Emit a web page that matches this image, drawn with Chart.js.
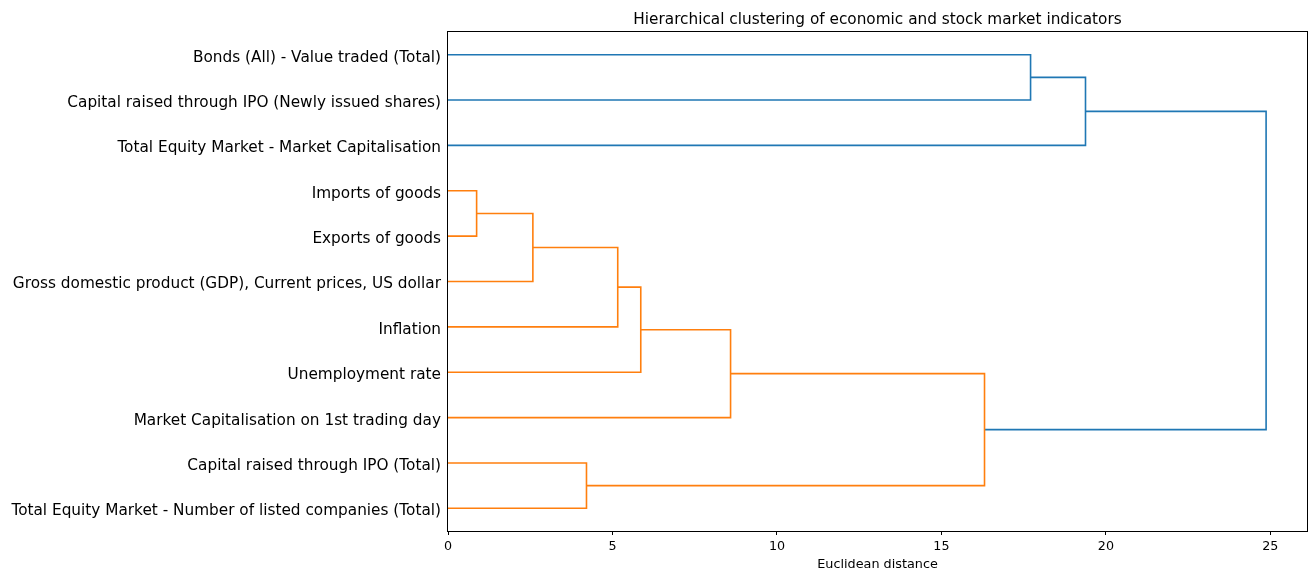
<!DOCTYPE html>
<html>
<head>
<meta charset="utf-8">
<script src="https://cdn.jsdelivr.net/npm/chart.js@4"></script>
<style>
  html, body { margin: 0; padding: 0; background: #fff; }
  #wrap { width: 1311px; height: 571px; position: relative; }
</style>
</head>
<body>
<div id="wrap"><canvas id="c" width="1311" height="571"></canvas></div>
<script>
// ---- Data ----
const TITLE = 'Hierarchical clustering of economic and stock market indicators';
const X_TITLE = 'Euclidean distance';
// Leaves in dendrogram order, bottom to top
const LEAVES = [
  'Total Equity Market - Number of listed companies (Total)',
  'Capital raised through IPO (Total)',
  'Market Capitalisation on 1st trading day',
  'Unemployment rate',
  'Inflation',
  'Gross domestic product (GDP), Current prices, US dollar',
  'Exports of goods',
  'Imports of goods',
  'Total Equity Market - Market Capitalisation',
  'Capital raised through IPO (Newly issued shares)',
  'Bonds (All) - Value traded (Total)'
];
// Merges: [childA, childB] (indices: leaves 0..10, clusters 11..)
const MERGE_LEFT  = [7, 11, 1, 12, 14, 15, 16, 10, 18, 19];
const MERGE_RIGHT = [6,  5, 0,  4,  3,  2, 13,  9,  8, 17];
const MERGE_DIST  = [0.87, 2.58, 4.21, 5.16, 5.86, 8.59, 16.31, 17.71, 19.38, 24.87];
const MERGE_GROUP = ['C1','C1','C1','C1','C1','C1','C1','C0','C0','C0'];
const GROUP_COLORS = { C0: '#1f77b4', C1: '#ff7f0e' };
const X_TICKS = [0, 5, 10, 15, 20, 25];

// ---- Build link geometry from the merge table ----
const nLeaves = LEAVES.length;
const nodeY = LEAVES.map((_, i) => 5 + 10 * i);
const nodeX = LEAVES.map(() => 0);
const datasets = [];
for (let k = 0; k < MERGE_DIST.length; k++) {
  const a = MERGE_LEFT[k], b = MERGE_RIGHT[k], d = MERGE_DIST[k];
  const pts = [
    { x: nodeX[a], y: nodeY[a] },
    { x: d, y: nodeY[a] },
    { x: d, y: nodeY[b] },
    { x: nodeX[b], y: nodeY[b] }
  ];
  nodeY.push((nodeY[a] + nodeY[b]) / 2);
  nodeX.push(d);
  datasets.push({
    data: pts,
    showLine: true,
    borderColor: GROUP_COLORS[MERGE_GROUP[k]],
    borderWidth: 1.6,
    pointRadius: 0,
    fill: false,
    tension: 0
  });
}
const X_MAX = Math.max(...MERGE_DIST) * 1.05;
const Y_MAX = nLeaves * 10;
const LEAF_POS = LEAVES.map((_, i) => 5 + 10 * i);

const FONT = "'DejaVu Sans', sans-serif";

const framePlugin = {
  id: 'frame',
  afterDatasetsDraw(chart) {
    const { ctx, chartArea: a } = chart;
    ctx.save();
    ctx.strokeStyle = '#000';
    ctx.lineWidth = 1;
    ctx.strokeRect(Math.round(a.left) - 0.5, Math.round(a.top) - 0.5,
                   Math.round(a.right - a.left) + 1, Math.round(a.bottom - a.top) + 1);
    ctx.fillStyle = '#000';
    ctx.font = '15.3px ' + FONT;
    ctx.textAlign = 'center';
    ctx.textBaseline = 'alphabetic';
    ctx.fillText(TITLE, (a.left + a.right) / 2, 24);
    ctx.restore();
  }
};

new Chart(document.getElementById('c'), {
  type: 'scatter',
  data: { datasets },
  options: {
    responsive: false,
    animation: false,
    layout: { padding: { top: 32, right: 4, left: 0, bottom: 0 } },
    plugins: { legend: { display: false }, tooltip: { enabled: false }, title: { display: false } },
    scales: {
      x: {
        type: 'linear',
        min: 0,
        max: X_MAX,
        afterBuildTicks(scale) { scale.ticks = X_TICKS.map(v => ({ value: v })); },
        afterFit(scale) { scale.height = 40; },
        border: { display: false },
        grid: { drawOnChartArea: false, tickLength: 4, color: '#000', tickColor: '#000', tickWidth: 1 },
        ticks: { color: '#000', font: { family: FONT, size: 12.7 }, padding: 4, maxRotation: 0,
                 callback: v => String(v) },
        title: { display: true, text: X_TITLE, color: '#000', font: { family: FONT, size: 12.8 },
                 padding: { top: 0, bottom: -1 } }
      },
      y: {
        type: 'linear',
        min: 0,
        max: Y_MAX,
        afterBuildTicks(scale) { scale.ticks = LEAF_POS.map(v => ({ value: v })); },
        afterFit(scale) { scale.width = 448; },
        border: { display: false },
        grid: { display: true, drawOnChartArea: false, drawTicks: false },
        ticks: { color: '#000', font: { family: FONT, size: 15.3 }, padding: 7, labelOffset: 3,
                 callback: (v) => { const i = LEAF_POS.indexOf(v); return i >= 0 ? LEAVES[i] : ''; } }
      }
    }
  },
  plugins: [framePlugin]
});
</script>
</body>
</html>
